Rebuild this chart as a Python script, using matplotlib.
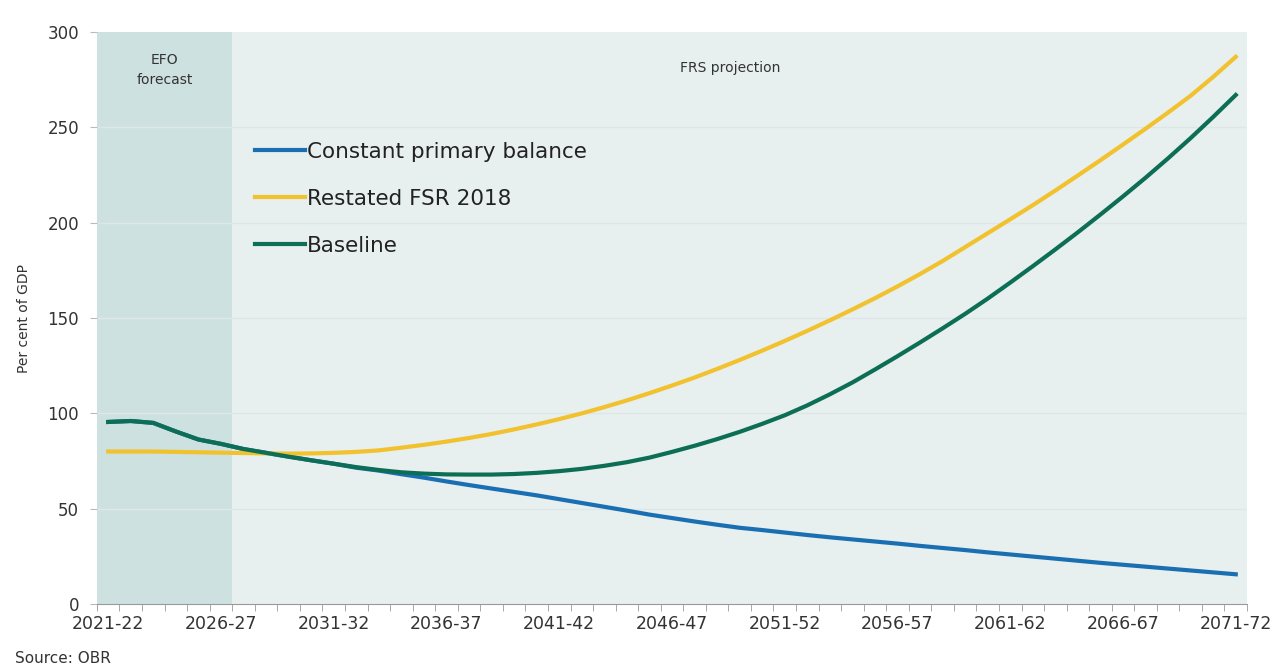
import numpy as np
import matplotlib.pyplot as plt
from matplotlib.ticker import FixedLocator

# financial years 2021-22 .. 2071-72
years = [f"{y}-{str(y + 1)[-2:]}" for y in range(2021, 2072)]

constant_primary_balance = [
    95.5, 96.0, 95.0, 90.5, 86.3, 84.0, 81.3, 79.3, 77.3, 75.4,
    73.6, 71.5, 70.0, 68.1, 66.3, 64.3, 62.4, 60.6, 58.8, 57.0,
    55.0, 53.0, 51.0, 49.0, 46.9, 45.1, 43.3, 41.6, 40.0, 38.8,
    37.5, 36.2, 35.0, 33.9, 32.8, 31.7, 30.5, 29.4, 28.3, 27.1,
    26.0, 24.9, 23.8, 22.7, 21.6, 20.6, 19.6, 18.6, 17.6, 16.6,
    15.6,
]
restated_fsr_2018 = [
    80.0, 80.0, 80.0, 79.8, 79.6, 79.4, 79.2, 79.0, 78.9, 79.0,
    79.3, 79.8, 80.6, 82.0, 83.5, 85.2, 87.1, 89.2, 91.6, 94.2,
    97.0, 100.0, 103.3, 106.8, 110.6, 114.6, 118.8, 123.3, 128.0, 132.9,
    138.0, 143.3, 148.8, 154.5, 160.4, 166.6, 173.1, 179.9, 187.2, 194.5,
    201.8, 209.2, 216.9, 224.8, 232.8, 241.0, 249.3, 257.8, 266.6, 276.5,
    287.0,
]
baseline = [
    95.5, 96.0, 95.0, 90.5, 86.3, 84.0, 81.3, 79.3, 77.3, 75.4,
    73.6, 71.8, 70.3, 69.1, 68.4, 68.0, 67.9, 67.9, 68.2, 68.8,
    69.7, 70.9, 72.5, 74.4, 76.8, 79.8, 83.0, 86.5, 90.3, 94.5,
    99.0, 104.2, 110.0, 116.2, 123.0, 130.0, 137.2, 144.6, 152.2, 160.2,
    168.6, 177.2, 186.0, 195.0, 204.3, 213.8, 223.6, 233.8, 244.4, 255.5,
    267.0,
]

efo_last = "2026-27"

BLUE = "#1a6fb3"
GOLD = "#f2c12e"
GREEN = "#0d6e56"

plt.rcParams['font.family'] = ['DejaVu Sans']

fig = plt.figure(figsize=(12.79, 6.71), dpi=100)
ax = fig.add_axes([0.0758, 0.0998, 0.8992, 0.8524])

x = np.arange(len(years))
n = len(years)
efo_end = years.index(efo_last) + 0.5

# background shading
ax.axvspan(-0.5, efo_end, color="#cde2e0", zorder=0, lw=0)
ax.axvspan(efo_end, n - 0.5, color="#e7efef", zorder=0, lw=0)
for g in [50, 100, 150, 200, 250]:
    ax.axhline(g, color="#dde7e7", lw=1, zorder=1)

ax.plot(x, constant_primary_balance, color=BLUE, lw=3, label="Constant primary balance", zorder=3)
ax.plot(x, restated_fsr_2018, color=GOLD, lw=3, label="Restated FSR 2018", zorder=4)
ax.plot(x, baseline, color=GREEN, lw=3, label="Baseline", zorder=5)

ax.set_xlim(-0.5, n - 0.5)
ax.set_ylim(0, 300)
ax.set_yticks([0, 50, 100, 150, 200, 250, 300])

ax.set_xticks(x[::5])
ax.set_xticklabels(years[::5])
ax.xaxis.set_minor_locator(FixedLocator(np.arange(-0.5, n, 1.0)))
ax.tick_params(axis="x", which="major", length=0, pad=8, labelsize=12.5, labelcolor="#333333")
ax.tick_params(axis="x", which="minor", length=5, color="#999999", direction="out")
ax.tick_params(axis="y", length=5, color="#bbbbbb", labelsize=12, labelcolor="#333333", pad=8)

for s in ["top", "right", "left"]:
    ax.spines[s].set_visible(False)
ax.spines["bottom"].set_color("#999999")

ax.set_ylabel("Per cent of GDP", fontsize=10, color="#333333", labelpad=12)

ax.text(2.5, 280, "EFO\nforecast", ha="center", va="center", fontsize=10, color="#333333",
        linespacing=1.5)
ax.text(27.6, 281, "FRS projection", ha="center", va="center", fontsize=10, color="#333333")

leg = ax.legend(loc="upper left", bbox_to_anchor=(0.121, 0.842), frameon=False, fontsize=15.5,
                handlelength=2.3, handletextpad=0.1, labelspacing=1.25)
for t in leg.get_texts():
    t.set_color("#222222")

fig.text(0.012, 0.012, "Source: OBR", fontsize=11, color="#333333")

fig.savefig("out.png", dpi=100)
